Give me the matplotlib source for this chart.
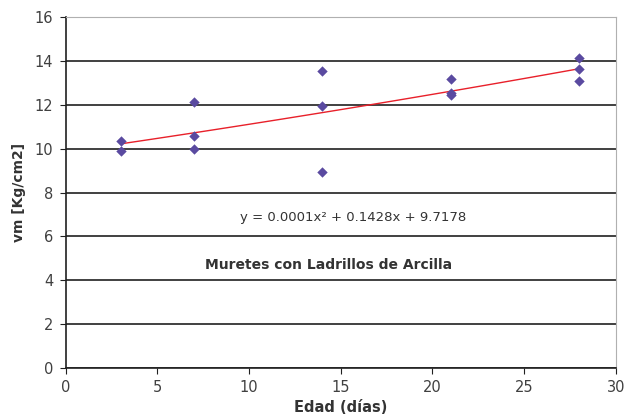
import matplotlib
matplotlib.use("Agg")
import matplotlib.pyplot as plt
import numpy as np

plt.rcParams['font.family'] = ['DejaVu Sans']

edad = [3, 3, 7, 7, 7, 14, 14, 14, 21, 21, 21, 28, 28, 28]
vm = [10.35, 9.88, 12.12, 10.57, 9.98, 13.55, 11.94, 8.95, 13.16, 12.52, 12.47, 14.14, 13.63, 13.11]
x_ticks = [0, 5, 10, 15, 20, 25, 30]
y_ticks = [0, 2, 4, 6, 8, 10, 12, 14, 16]

fig = plt.figure(figsize=(6.27, 4.19), dpi=100)
ax = fig.add_axes([0.105, 0.122, 0.877, 0.837])

coef = np.polyfit(edad, vm, 2)
xs = np.linspace(min(edad), max(edad), 100)
ax.plot(xs, np.polyval(coef, xs), color='#e8202a', lw=1.0, zorder=3)
ax.scatter(edad, vm, marker='D', s=28, color='#5a4aa0', zorder=4, linewidths=0)

ax.set_xlim(0, 30)
ax.set_ylim(0, 16)
ax.set_xticks(x_ticks)
ax.set_yticks(y_ticks)
ax.grid(axis='y', color='#202020', lw=1.2)
for s in ['top', 'right']:
    ax.spines[s].set_color('#b0b0b0')
    ax.spines[s].set_linewidth(0.8)
for s in ['left', 'bottom']:
    ax.spines[s].set_color('#202020')
    ax.spines[s].set_linewidth(1.2)
ax.tick_params(axis='both', labelsize=10.5, color='#202020', length=4, direction='out', labelcolor='#404040', pad=5)

ax.text(15.65, 6.84, 'y = 0.0001x² + 0.1428x + 9.7178', fontsize=9.5, ha='center', va='center', color='#333333')
ax.text(14.35, 4.7, 'Muretes con Ladrillos de Arcilla', fontsize=10, fontweight='bold', ha='center', va='center', color='#333333')

ax.set_xlabel('Edad (días)', fontsize=10.5, fontweight='bold', color='#333333', labelpad=3)
ax.set_ylabel('vm [Kg/cm2]', fontsize=10, fontweight='bold', color='#333333', labelpad=6)

fig.savefig('out.png', dpi=100)
